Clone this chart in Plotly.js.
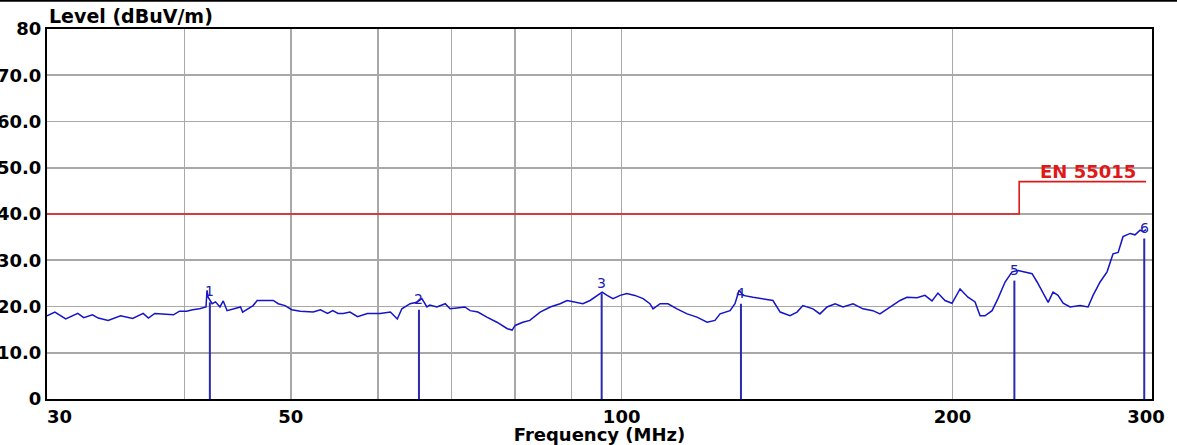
<!DOCTYPE html>
<html><head><meta charset="utf-8">
<script src="https://cdn.plot.ly/plotly-3.0.1.min.js"></script>
<style>html,body{margin:0;padding:0;background:#fff;overflow:hidden;} #chart{width:1177px;height:445px;}</style>
</head><body><div id="chart"></div>
<script>
// Measured field strength trace (frequency in MHz, level in dBuV/m)
const freqMHz = [30, 30.5, 31.2, 32.0, 32.4, 33.0, 33.4, 34.1, 35.0, 35.9, 36.7, 37.1, 37.6, 39.1, 39.6, 40.2, 40.7, 41.3, 41.86, 41.95, 42.05, 42.4, 42.7, 43.1, 43.4, 43.75, 45.0, 45.2, 46.2, 46.6, 48.2, 48.7, 49.4, 50.1, 51.0, 52.4, 53.2, 54.0, 54.6, 55.2, 55.8, 56.6, 57.5, 58.7, 60.3, 61.6, 62.5, 63.1, 64.2, 65.1, 65.8, 66.5, 66.9, 67.9, 69.1, 69.8, 70.8, 72.0, 72.8, 74.0, 75.4, 77.0, 78.7, 79.5, 80.0, 81.3, 82.5, 84.3, 86.1, 87.9, 89.2, 91.1, 92.2, 93.6, 95.0, 96.0, 97.0, 98.2, 99.7, 101.1, 102.8, 104.6, 106.1, 106.8, 108.4, 110.2, 112.3, 114.7, 117.1, 119.6, 121.6, 122.9, 125.5, 126.8, 127.9, 129.0, 131.7, 134.5, 137.3, 139.4, 142.3, 144.4, 146.2, 149.3, 151.5, 153.8, 156.4, 159.0, 162.4, 165.8, 169.3, 171.8, 174.4, 178.1, 179.2, 181.8, 185.7, 188.8, 191.6, 194.0, 196.9, 199.8, 203.2, 206.6, 209.7, 211.9, 214.1, 217.3, 220.0, 223.3, 226.6, 229.5, 232.9, 236.3, 238.8, 241.8, 244.4, 246.9, 249.5, 252.2, 255.9, 261.3, 265.7, 268.5, 272.5, 276.5, 280.0, 283.0, 285.9, 290.2, 293.2, 296.3, 298.2, 300];
const levelDbuv = [18.0, 18.8, 17.3, 18.5, 17.6, 18.2, 17.5, 17.0, 18.0, 17.4, 18.5, 17.5, 18.5, 18.2, 19.0, 19.0, 19.3, 19.5, 19.9, 23.5, 22.0, 20.6, 21.0, 19.9, 21.2, 19.1, 19.9, 18.8, 20.2, 21.3, 21.3, 20.6, 20.2, 19.3, 19.0, 18.8, 19.3, 18.5, 19.1, 18.5, 18.5, 18.8, 17.8, 18.5, 18.5, 18.8, 17.3, 19.5, 20.6, 20.9, 21.7, 19.9, 20.3, 19.9, 20.6, 19.5, 19.7, 19.9, 19.1, 18.8, 17.7, 16.6, 15.2, 14.9, 15.9, 16.6, 17.0, 18.8, 19.9, 20.6, 21.3, 20.9, 20.6, 21.3, 22.4, 23.1, 22.4, 21.7, 22.4, 22.8, 22.4, 21.7, 20.6, 19.5, 20.6, 20.6, 19.5, 18.4, 17.7, 16.6, 17.0, 18.4, 19.1, 20.6, 23.5, 22.4, 22.0, 21.7, 21.3, 18.8, 18.0, 18.8, 20.2, 19.5, 18.4, 19.9, 20.6, 19.9, 20.6, 19.5, 19.1, 18.4, 19.5, 20.9, 21.3, 22.0, 21.9, 22.4, 21.2, 22.9, 21.3, 20.7, 23.8, 22.0, 21.0, 18.0, 18.0, 19.1, 21.7, 25.3, 27.5, 27.8, 27.5, 27.1, 25.3, 23.1, 20.9, 23.1, 22.4, 20.7, 19.9, 20.2, 19.9, 22.4, 25.3, 27.5, 31.4, 31.7, 35.1, 35.8, 35.5, 36.5, 36.2, 36.6];

// EN 55015 limit line
const limitName = 'EN 55015';
const limitFreq = [30, 230, 230, 300];
const limitLevel = [40, 40, 47, 47];

// Peak markers
const markerIds = ['1', '2', '3', '4', '5', '6'];
const markerFreq = [42.2, 65.4, 95.9, 128.4, 227.7, 298.9];
const markerLevel = [20.9, 19.3, 22.8, 20.6, 25.6, 34.7];

// Axis ticks
const xTickVals = [30, 50, 100, 200, 300];
const xTickText = ['\u00a0\u00a0\u00a0\u00a030', '50', '100', '200', '300'];
const xGridVals = [40, 50, 60, 70, 80, 90, 100, 200];
const yTickVals = [0, 10, 20, 30, 40, 50, 60, 70, 80];
const yTickText = ['0', '10.0', '20.0', '30.0', '40.0', '50.0', '60.0', '70.0', '80'];

const xTitle = 'Frequency (MHz)';
const yTitle = 'Level (dBuV/m)';

// marker stems built from marker arrays
const stemX = [], stemY = [];
markerFreq.forEach((f, i) => { stemX.push(f, f, null); stemY.push(0, markerLevel[i], null); });

const fontFam = 'DejaVu Sans, Verdana, sans-serif';

const traces = [
  { x: limitFreq, y: limitLevel, type: 'scatter', mode: 'lines', line: { color: '#e01818', width: 1.6 }, hoverinfo: 'skip', showlegend: false },
  { x: freqMHz, y: levelDbuv, type: 'scatter', mode: 'lines', line: { color: '#1414c8', width: 1.5 }, showlegend: false },
  { x: stemX, y: stemY, type: 'scatter', mode: 'lines', line: { color: '#2a2ab0', width: 2 }, hoverinfo: 'skip', showlegend: false }
];

const markerLabels = markerIds.map((id, i) => ({
  text: id, xref: 'x', yref: 'y', x: Math.log10(markerFreq[i]), y: markerLevel[i],
  xanchor: 'center', yanchor: 'middle', yshift: 11, showarrow: false,
  font: { family: fontFam, size: 14, color: '#2020b0' }
}));

const layout = {
  width: 1177, height: 445,
  margin: { l: 47, r: 25, t: 29, b: 46, pad: 0 },
  paper_bgcolor: '#ffffff', plot_bgcolor: '#ffffff',
  showlegend: false,
  xaxis: {
    type: 'log',
    range: [Math.log10(30), Math.log10(303.8)],
    tickmode: 'array', tickvals: xTickVals, ticktext: xTickText,
    ticks: '', showgrid: false, zeroline: false,
    minor: { tickmode: 'array', tickvals: xGridVals, showgrid: true, gridcolor: '#a8a8a8', gridwidth: 1.6, ticks: '' },
    showline: true, linecolor: '#000000', linewidth: 2, mirror: true,
    tickfont: { family: fontFam, size: 18, color: '#000', weight: 700 },
    title: { text: xTitle, font: { family: fontFam, size: 18, color: '#000', weight: 700 }, standoff: 7 }
  },
  yaxis: {
    range: [0, 80],
    tickmode: 'array', tickvals: yTickVals, ticktext: yTickText,
    ticks: '', showgrid: true, gridcolor: '#a8a8a8', gridwidth: 1.6, zeroline: false,
    showline: true, linecolor: '#000000', linewidth: 2, mirror: true,
    tickfont: { family: fontFam, size: 18, color: '#000', weight: 700 }
  },
  annotations: [
    { text: yTitle, xref: 'paper', yref: 'paper', x: 0, y: 1.034, xanchor: 'left', yanchor: 'middle', showarrow: false,
      font: { family: fontFam, size: 19, color: '#000', weight: 700 } },
    { text: limitName, xref: 'x', yref: 'y', x: Math.log10(limitFreq[limitFreq.length - 1]), y: 49.2, xanchor: 'right', yanchor: 'middle', xshift: -8, showarrow: false,
      font: { family: fontFam, size: 18, color: '#e01818', weight: 700 } }
  ].concat(markerLabels),
  shapes: [
    { type: 'line', xref: 'paper', yref: 'paper', x0: -0.05, x1: 1.03, y0: 1.077, y1: 1.077, line: { color: '#000', width: 2.5 } }
  ]
};

Plotly.newPlot('chart', traces, layout, { staticPlot: true, displayModeBar: false });
</script>
</body></html>
